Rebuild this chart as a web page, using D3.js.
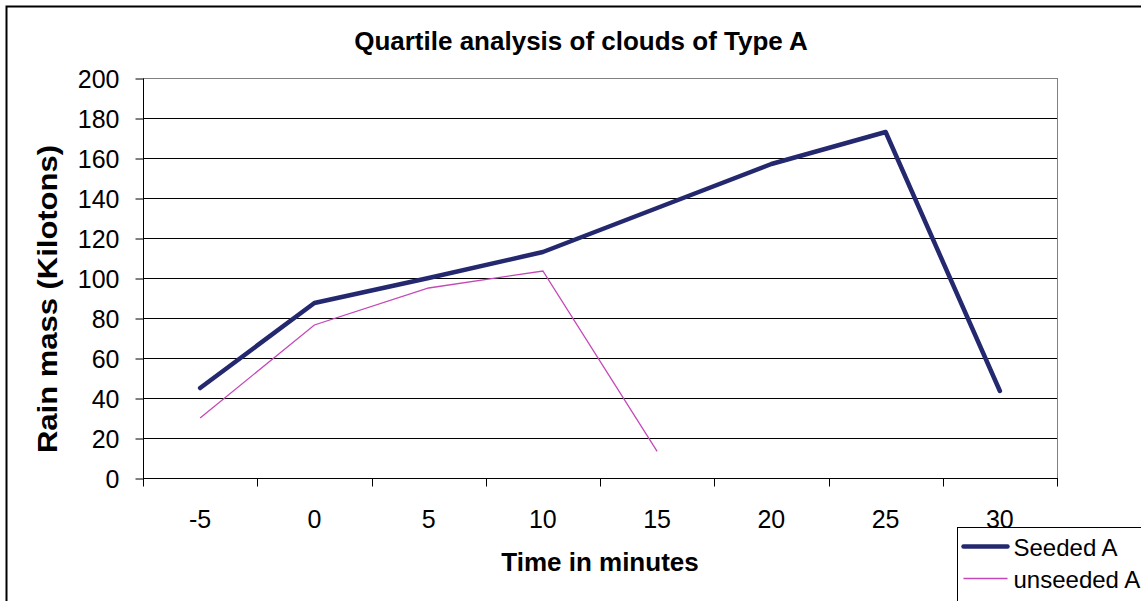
<!DOCTYPE html>
<html>
<head>
<meta charset="utf-8">
<script src="https://cdn.jsdelivr.net/npm/d3@7"></script>
<style>
  body { margin: 0; background: #fff; }
  text { font-family: "Liberation Sans", Arial, sans-serif; }
</style>
</head>
<body>
<div id="chart"></div>
<script>
var categories = ["-5", "0", "5", "10", "15", "20", "25", "30"];
var seededA = [45, 87.5, 100, 113, 135, 157, 173, 43.5];
var unseededA = [30, 76.5, 95, 103.5, 13.3, null, null, null];
var yTicks = [0, 20, 40, 60, 80, 100, 120, 140, 160, 180, 200];
var seriesNames = ["Seeded A", "unseeded A"];

var width = 1141, height = 601;
var margin = {left: 143, top: 78, right: 1057, bottom: 478};

var svg = d3.select("#chart").append("svg")
  .attr("width", width)
  .attr("height", height);

// outer chart border (cropped at right/bottom like the reference)
svg.append("rect")
  .attr("x", 6.5).attr("y", 6.5)
  .attr("width", 1200).attr("height", 700)
  .attr("fill", "none")
  .attr("stroke", "#000")
  .attr("stroke-width", 2);

var x = d3.scaleBand()
  .domain(categories)
  .range([margin.left, margin.right]);

var y = d3.scaleLinear()
  .domain([0, 200])
  .range([margin.bottom, margin.top]);

// gridlines
svg.append("g")
  .selectAll("line")
  .data(yTicks.slice(1))
  .enter().append("line")
  .attr("x1", margin.left).attr("x2", margin.right)
  .attr("y1", d => Math.round(y(d)) + 0.5)
  .attr("y2", d => Math.round(y(d)) + 0.5)
  .attr("stroke", d => d == 200 ? "#808080" : "#000")
  .attr("stroke-width", 1);

// right border of plot
svg.append("line")
  .attr("x1", margin.right + 0.5).attr("x2", margin.right + 0.5)
  .attr("y1", margin.top).attr("y2", margin.bottom)
  .attr("stroke", "#808080");

// y axis
var yAxis = svg.append("g")
  .attr("transform", "translate(" + (margin.left + 0.5) + ",0.5)")
  .call(d3.axisLeft(y).tickValues(yTicks).tickSize(8).tickPadding(16));
yAxis.select(".domain").attr("stroke", "#000").attr("d", "M0," + margin.top + "V" + margin.bottom);
yAxis.selectAll(".tick line").attr("stroke", "#000");
yAxis.selectAll(".tick text")
  .attr("font-size", 25)
  .attr("fill", "#000")
  .attr("x", -24)
  .attr("dy", "0.36em")
  .style("font-family", "Liberation Sans, Arial, sans-serif");

// x axis with ticks between categories
var xAxisG = svg.append("g")
  .attr("transform", "translate(0," + (margin.bottom + 0.5) + ")");
xAxisG.append("line")
  .attr("x1", margin.left).attr("x2", margin.right + 1)
  .attr("stroke", "#000");
var bounds = categories.map(c => x(c)).concat([margin.right]);
xAxisG.selectAll("line.tk")
  .data(bounds)
  .enter().append("line")
  .attr("class", "tk")
  .attr("x1", d => Math.round(d) + 0.5).attr("x2", d => Math.round(d) + 0.5)
  .attr("y1", 0).attr("y2", 8)
  .attr("stroke", "#000");
xAxisG.selectAll("text")
  .data(categories)
  .enter().append("text")
  .attr("x", d => x(d) + x.bandwidth() / 2)
  .attr("y", 49)
  .attr("text-anchor", "middle")
  .attr("font-size", 25)
  .text(d => d);

// lines
var line = d3.line()
  .defined(d => d != null)
  .x((d, i) => x(categories[i]) + x.bandwidth() / 2)
  .y(d => y(d));

svg.append("path")
  .datum(unseededA)
  .attr("d", line)
  .attr("fill", "none")
  .attr("stroke", "#c548b8")
  .attr("stroke-width", 1.3);

svg.append("path")
  .datum(seededA)
  .attr("d", line)
  .attr("fill", "none")
  .attr("stroke", "#24286f")
  .attr("stroke-width", 4.5)
  .attr("stroke-linejoin", "round")
  .attr("stroke-linecap", "round");

// title and axis labels
svg.append("text")
  .attr("x", 581).attr("y", 50)
  .attr("text-anchor", "middle")
  .attr("font-size", 26)
  .attr("font-weight", "bold")
  .text("Quartile analysis of clouds of Type A");

svg.append("text")
  .attr("transform", "translate(57,299) rotate(-90)")
  .attr("text-anchor", "middle")
  .attr("font-size", 27)
  .attr("font-weight", "bold")
  .attr("textLength", 308)
  .attr("lengthAdjust", "spacingAndGlyphs")
  .text("Rain mass (Kilotons)");

svg.append("text")
  .attr("x", 600).attr("y", 571)
  .attr("text-anchor", "middle")
  .attr("font-size", 26)
  .attr("font-weight", "bold")
  .text("Time in minutes");

// legend
var legend = svg.append("g").attr("transform", "translate(957.5,527.5)");
legend.append("rect")
  .attr("width", 300).attr("height", 200)
  .attr("fill", "#fff")
  .attr("stroke", "#000");
var legendStyles = [
  {color: "#24286f", w: 4.5},
  {color: "#c548b8", w: 1.3}
];
seriesNames.forEach(function(name, i) {
  var ly = 19 + i * 32;
  legend.append("line")
    .attr("x1", 6).attr("x2", 50)
    .attr("y1", ly).attr("y2", ly)
    .attr("stroke", legendStyles[i].color)
    .attr("stroke-width", legendStyles[i].w)
    .attr("stroke-linecap", i == 0 ? "round" : "butt");
  legend.append("text")
    .attr("x", 56).attr("y", ly + 9)
    .attr("font-size", 24)
    .text(name);
});
</script>
</body>
</html>
